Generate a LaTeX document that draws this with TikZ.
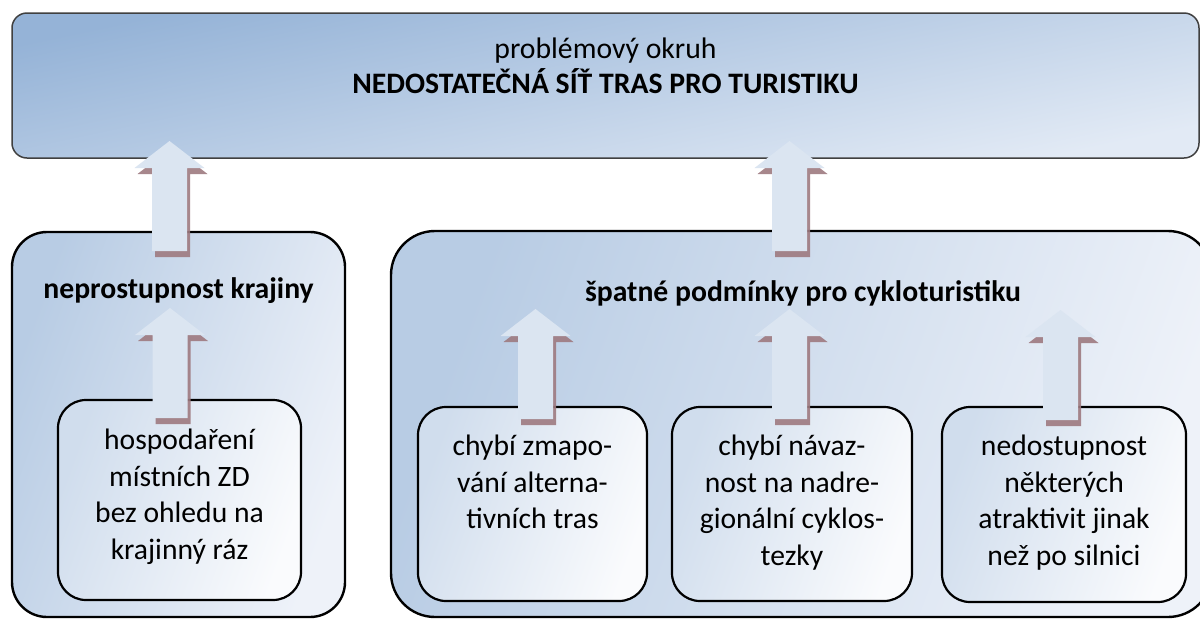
\documentclass[tikz,border=0pt]{standalone}
\usepackage{fontspec}
\setmainfont{Carlito}
\usetikzlibrary{calc}
\definecolor{topA}{RGB}{149,179,215}
\definecolor{topB}{RGB}{226,234,245}
\definecolor{grpA}{RGB}{184,204,228}
\definecolor{grpB}{RGB}{238,242,249}
\definecolor{itmA}{RGB}{208,221,237}
\definecolor{itmB}{RGB}{250,251,253}
\definecolor{arrowfill}{RGB}{219,229,241}
\definecolor{shadowcol}{RGB}{158,122,128}
\tikzset{
  topbox/.style={draw=black!75, line width=1.5pt, rounded corners=15pt,
    top color=topA, bottom color=topB, shading angle=12, inner sep=0pt},
  groupbox/.style={draw=black, line width=2.4pt,
    left color=grpA, right color=grpB, shading angle=70, inner sep=0pt},
  itembox/.style={draw=black, line width=2.2pt, rounded corners=28pt,
    left color=itmA, right color=itmB, shading angle=70, inner sep=0pt},
  titletext/.style={font=\fontsize{29.7}{36}\selectfont\bfseries, inner sep=0pt},
  subtext/.style={font=\fontsize{29.7}{36}\selectfont, inner sep=0pt},
  itemtext/.style={font=\fontsize{29.6}{36.6}\selectfont, align=center, inner sep=0pt},
  blockarrow/.pic={
    \fill[shadowcol, opacity=0.9] (3,6) -- (38,33) -- (20.5,33) -- (20.5,116)
      -- (-14.5,116) -- (-14.5,33) -- (-32,33) -- cycle;
    \fill[arrowfill] (0,0) -- (35,27) -- (17.5,27) -- (17.5,110)
      -- (-17.5,110) -- (-17.5,27) -- (-35,27) -- cycle;
  }
}
\begin{document}
\begin{tikzpicture}[x=1pt,y=-1pt]
\useasboundingbox (0,0) rectangle (1200,619);
\fill[white] (0,0) rectangle (1200,619);
% top box
\node (top) [topbox, minimum width=1187pt, minimum height=145pt] at (605.5,85.5) {};
\node (toplabel) [subtext, anchor=base] at ($(top.north)+(0,46)$) {problémový okruh};
\node (toptitle) [titletext, anchor=base] at ($(top.north)+(0,81)$) {NEDOSTATEČNÁ SÍŤ TRAS PRO TURISTIKU};
% group boxes
\node (left) [groupbox, rounded corners=35pt, minimum width=333pt, minimum height=385pt] at (178.5,424.5) {};
\node (right) [groupbox, rounded corners=44pt, minimum width=821pt, minimum height=386pt] at (801.5,424) {};
\node (lefttitle) [titletext, anchor=base] at ($(left.north)+(0,68)$) {neprostupnost krajiny};
\node (righttitle) [titletext, anchor=base] at (803,301) {špatné podmínky pro cykloturistiku};
% item boxes
\node (i0) [itembox, minimum width=243pt, minimum height=200pt] at (179.5,500) {};
\node (i1) [itembox, minimum width=229pt, minimum height=194pt] at (532.5,504) {};
\node (i2) [itembox, minimum width=240pt, minimum height=194pt] at (792,504) {};
\node (i3) [itembox, minimum width=244pt, minimum height=195pt] at (1064,504.5) {};
\node (t0) [itemtext, anchor=north] at ($(i0.north)+(0,30)$) {hospodaření\\místních ZD\\bez ohledu na\\krajinný ráz};
\node (t1) [itemtext, anchor=north] at ($(i1.north)+(0,29)$) {chybí zmapo-\\vání alterna-\\tivních tras};
\node (t2) [itemtext, anchor=north] at ($(i2.north)+(0,29)$) {chybí návaz-\\nost na nadre-\\gionální cyklos-\\tezky};
\node (t3) [itemtext, anchor=north] at ($(i3.north)+(0,29)$) {nedostupnost\\některých\\atraktivit jinak\\než po silnici};
% arrows
\coordinate (a1) at (169.5,141);
\coordinate (a2) at (789.5,141);
\coordinate (a3) at (170,308);
\coordinate (a4) at (535.5,309);
\coordinate (a5) at (789.5,309);
\coordinate (a6) at (1060.5,310);
\foreach \c in {a1,a2,a3,a4,a5,a6} \pic at (\c) {blockarrow};
\end{tikzpicture}
\end{document}
